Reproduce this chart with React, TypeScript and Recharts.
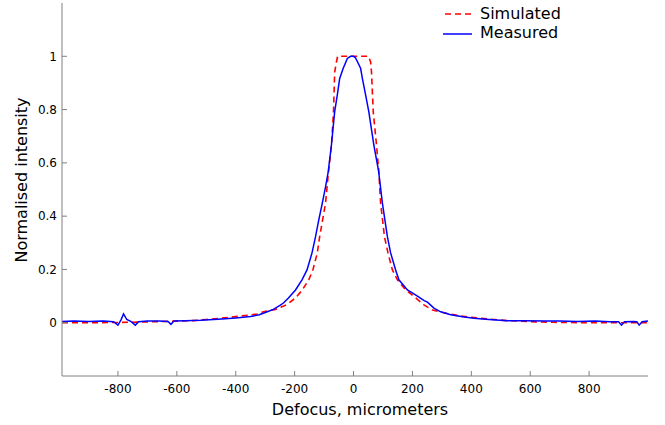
import React from 'react';
import { LineChart, Line, XAxis, YAxis, Legend } from 'recharts';

// Simulated profile (red dashed)
const simX = [-990, -900, -800, -700, -600, -544, -500, -460, -408, -384, -350, -327, -306, -265, -237, -225, -197, -174, -152, -138, -123, -115, -95, -85, -75, -68, -64, -58, -54, 0, 51, 58, 61, 67, 78, 86, 92, 105, 117, 132, 149, 177, 211, 239, 268, 296, 330, 364, 432, 520, 600, 680, 800, 900, 1000];
const simY = [0.0, 0.0, 0.001, 0.003, 0.006, 0.008, 0.012, 0.016, 0.022, 0.025, 0.029, 0.033, 0.041, 0.05, 0.063, 0.069, 0.093, 0.123, 0.161, 0.198, 0.262, 0.323, 0.449, 0.566, 0.667, 0.791, 0.941, 0.979, 1.0, 1.0, 1.0, 0.979, 0.941, 0.791, 0.667, 0.566, 0.449, 0.323, 0.262, 0.198, 0.161, 0.123, 0.093, 0.067, 0.048, 0.04, 0.032, 0.025, 0.0165, 0.008, 0.004, 0.0015, 0.0, 0.0, 0.0];

// Measured profile (blue solid)
const measX = [-990, -950, -900, -850, -815, -800, -790, -781, -770, -755, -741, -730, -700, -660, -630, -620, -610, -570, -520, -460, -400, -350, -320, -293, -272, -250, -238, -221, -197, -175, -158, -141, -129, -118, -106, -95, -86, -75, -64, -55, -47, -35, -21, -10, 0, 7, 24, 30, 41, 52, 69, 85, 98, 115, 126, 143, 154, 183, 194, 217, 240, 251, 273, 296, 330, 370, 409, 460, 523, 580, 650, 700, 760, 820, 870, 900, 910, 920, 950, 962, 970, 980, 1000];
const measY = [0.005, 0.006, 0.005, 0.006, 0.004, -0.009, 0.01, 0.033, 0.012, 0.004, -0.009, 0.004, 0.006, 0.006, 0.005, -0.006, 0.006, 0.007, 0.009, 0.013, 0.018, 0.023, 0.03, 0.041, 0.05, 0.065, 0.074, 0.093, 0.123, 0.161, 0.198, 0.262, 0.323, 0.386, 0.449, 0.51, 0.566, 0.667, 0.792, 0.855, 0.917, 0.955, 0.992, 1.0, 1.0, 0.994, 0.955, 0.917, 0.855, 0.791, 0.667, 0.57, 0.449, 0.323, 0.262, 0.198, 0.161, 0.123, 0.116, 0.1, 0.083, 0.077, 0.055, 0.041, 0.03, 0.022, 0.0165, 0.012, 0.0075, 0.007, 0.006, 0.006, 0.005, 0.006, 0.004, 0.004, -0.009, 0.004, 0.005, 0.004, -0.009, 0.004, 0.006];

const xTicks = [-800, -600, -400, -200, 0, 200, 400, 600, 800];
const yTicks = [0, 0.2, 0.4, 0.6, 0.8, 1];
const seriesNames = ['Simulated', 'Measured'];

const simData = simX.map((x, i) => ({ x, y: simY[i] }));
const measData = measX.map((x, i) => ({ x, y: measY[i] }));

const FONT = '"DejaVu Sans", sans-serif';
const AXIS = '#808080';

const LegendBox = () => (
  <div style={{ fontFamily: FONT, fontSize: 16, color: '#000', lineHeight: '19px' }}>
    <div style={{ display: 'flex', alignItems: 'center', height: 19 }}>
      <svg width={36} height={19}>
        <line x1={5} x2={32} y1={10} y2={10} stroke="#ff0000" strokeWidth={1.5} strokeDasharray="6 4" />
      </svg>
      <span style={{ marginLeft: 4 }}>{seriesNames[0]}</span>
    </div>
    <div style={{ display: 'flex', alignItems: 'center', height: 19 }}>
      <svg width={36} height={19}>
        <line x1={3} x2={32} y1={11} y2={11} stroke="#0000ff" strokeWidth={1.5} />
      </svg>
      <span style={{ marginLeft: 4 }}>{seriesNames[1]}</span>
    </div>
  </div>
);

export default function App() {
  return (
    <div style={{ position: 'absolute', left: 0, top: 0, width: 665, height: 425, background: '#fff' }}>
      <LineChart width={665} height={425} margin={{ top: 3, right: 17, bottom: 0, left: 0 }}>
        <XAxis
          type="number"
          dataKey="x"
          domain={[-990, 1000]}
          ticks={xTicks}
          allowDataOverflow
          height={49}
          tickSize={-5}
          tickMargin={13}
          axisLine={{ stroke: AXIS }}
          tickLine={{ stroke: AXIS }}
          tick={{ fill: '#000', fontSize: 12, fontFamily: FONT }}
          label={(p: any) => (
            <text x={360} y={415} textAnchor="middle" fontFamily={FONT} fontSize={16} fill="#000">
              Defocus, micrometers
            </text>
          )}
        />
        <YAxis
          type="number"
          dataKey="y"
          domain={[-0.2, 1.2]}
          ticks={yTicks}
          allowDataOverflow
          width={62}
          tickSize={-5}
          tickMargin={10}
          axisLine={{ stroke: AXIS }}
          tickLine={{ stroke: AXIS }}
          tick={{ fill: '#000', fontSize: 12, fontFamily: FONT }}
          label={(p: any) => (
            <text x={27} y={180} transform="rotate(-90 27 180)" textAnchor="middle" fontFamily={FONT} fontSize={16} fill="#000">
              Normalised intensity
            </text>
          )}
        />
        <Legend
          layout="horizontal"
          align="center"
          verticalAlign="middle"
          content={() => <LegendBox />}
          wrapperStyle={{ position: 'absolute', left: 440, top: 4, width: 160, height: 40 }}
        />
        <Line
          data={simData}
          dataKey="y"
          name={seriesNames[0]}
          type="linear"
          stroke="#ff0000"
          strokeWidth={1.6}
          strokeDasharray="6 4"
          dot={false}
          isAnimationActive={false}
        />
        <Line
          data={measData}
          dataKey="y"
          name={seriesNames[1]}
          type="linear"
          stroke="#0000ff"
          strokeWidth={1.5}
          dot={false}
          isAnimationActive={false}
        />
      </LineChart>
    </div>
  );
}
